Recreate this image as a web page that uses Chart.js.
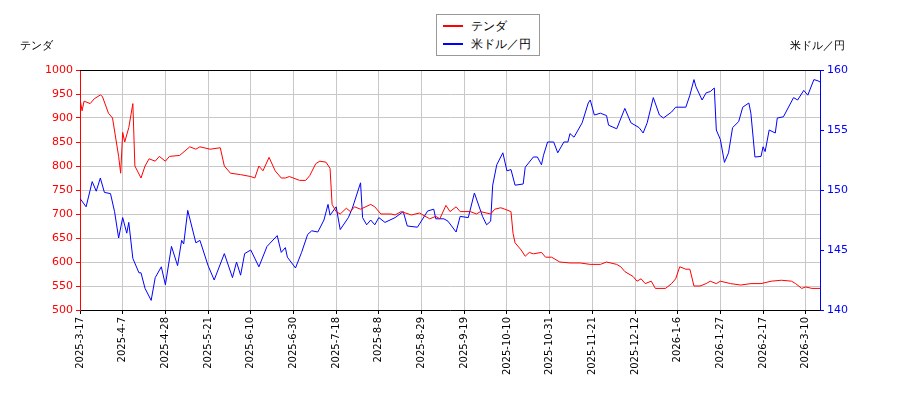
<!DOCTYPE html>
<html>
<head>
<meta charset="utf-8">
<script src="https://cdn.jsdelivr.net/npm/chart.js@4/dist/chart.umd.min.js"></script>
<style>
body{margin:0;background:#fff;font-family:"DejaVu Sans",sans-serif;}
#wrap{position:relative;width:900px;height:400px;}
.lab{position:absolute;font-size:11px;color:#000;}
#legend{position:absolute;left:436px;top:14px;width:104px;height:42px;border:1px solid #999;background:#fff;font-size:12px;box-sizing:border-box;padding:2px 6px;}
#legend div{display:flex;align-items:center;height:18px;}
#legend span{display:inline-block;width:20px;height:0;border-top:2px solid;margin-right:8px;}
</style>
</head>
<body>
<div id="wrap">
<canvas id="c" width="900" height="400"></canvas>
<div class="lab" style="left:20px;top:38px;">テンダ</div>
<div class="lab" style="left:790px;top:38px;">米ドル／円</div>
<div id="legend">
<div><span style="border-color:#f00"></span>テンダ</div>
<div><span style="border-color:#00f"></span>米ドル／円</div>
</div>
</div>
<script>
// x tick labels, one every 21 steps
const tickLabels = ['2025-3-17','2025-4-7','2025-4-28','2025-5-21','2025-6-10','2025-6-30','2025-7-18','2025-8-8','2025-8-29','2025-9-19','2025-10-10','2025-10-31','2025-11-21','2025-12-12','2026-1-6','2026-1-27','2026-2-17','2026-3-10'];

// position offsets along x and values
const tendaDays = [0,1,2,5,7,10,11,14,16,19,20,21,22,24,26,27,30,32,34,37,39,42,44,49,54,57,59,64,69,71,74,79,84,86,88,90,93,96,99,101,103,108,111,113,116,118,121,123,124,126,128,131,133,135,138,143,145,148,153,155,158,163,167,172,175,177,180,182,185,187,192,195,197,202,204,207,209,212,213,214,217,219,221,223,227,229,232,236,241,246,251,256,259,264,266,268,272,274,276,278,281,283,288,291,293,295,298,300,302,305,308,310,313,315,320,325,330,335,340,345,350,352,355,357,360,364];
const tendaVals = [940,915,935,930,940,948,945,910,900,820,785,870,850,880,930,800,775,800,815,810,820,810,820,822,840,835,840,835,838,800,785,782,778,775,800,790,818,790,775,775,778,770,770,780,805,810,808,795,720,705,700,712,705,715,710,720,715,700,700,698,705,698,702,690,695,690,718,705,715,705,705,700,705,700,710,713,710,705,660,640,625,612,620,617,620,610,610,600,598,598,595,595,600,595,590,580,570,560,565,555,560,545,545,555,565,590,585,585,550,550,555,560,555,560,555,552,555,555,560,562,560,555,545,548,545,545];

const usdDays = [0,3,6,8,10,12,15,17,19,21,23,24,26,29,30,32,35,37,40,42,45,48,50,51,53,57,59,63,66,71,75,77,79,81,84,88,92,97,99,101,102,106,109,112,114,117,120,122,123,126,128,132,134,138,139,141,143,145,147,150,155,159,161,166,171,174,175,179,181,185,187,191,194,198,200,202,203,205,208,210,212,214,218,219,223,225,227,228,230,233,235,238,240,241,243,247,250,251,253,256,259,260,264,268,271,275,277,279,282,285,287,291,293,298,300,302,303,306,308,310,312,313,315,317,319,321,324,326,329,330,332,335,336,337,339,342,343,346,351,353,356,358,361,363,364];
const usdVals = [149.3,148.6,150.7,149.9,151.0,149.8,149.7,148.2,146.0,147.7,146.4,147.3,144.3,143.1,143.1,141.8,140.8,142.7,143.6,142.1,145.3,143.7,145.8,145.5,148.3,145.6,145.8,143.7,142.5,144.7,142.7,144.0,142.9,144.7,145.0,143.6,145.3,146.2,144.8,145.2,144.4,143.5,144.8,146.3,146.6,146.5,147.5,148.8,147.9,148.6,146.7,147.7,148.5,150.6,147.7,147.1,147.5,147.1,147.7,147.3,147.7,148.2,147.0,146.9,148.25,148.4,147.6,147.6,147.4,146.5,147.8,147.7,149.75,147.8,147.1,147.4,150.4,152.1,153.1,151.6,151.7,150.4,150.5,151.9,152.75,152.75,152.1,152.9,154.0,154.0,153.1,154.0,154.0,154.7,154.4,155.6,157.25,157.5,156.25,156.4,156.2,155.4,155.1,156.8,155.6,155.2,154.75,155.6,157.7,156.25,156.0,156.5,156.9,156.9,157.9,159.2,158.6,157.5,158.1,158.2,158.5,155.0,154.2,152.3,153.1,155.2,155.7,156.9,157.25,156.4,152.75,152.8,153.6,153.2,155.0,154.75,156.0,156.1,157.7,157.5,158.3,157.9,159.2,159.1,159.0];

const tickFont = {family: 'DejaVu Sans', size: 11};

new Chart(document.getElementById('c'), {
  type: 'line',
  data: {
    datasets: [
      {label: 'テンダ', data: tendaDays.map((d, i) => ({x: d, y: tendaVals[i]})), borderColor: '#f00', borderWidth: 1, pointRadius: 0, tension: 0, yAxisID: 'y'},
      {label: '米ドル／円', data: usdDays.map((d, i) => ({x: d, y: usdVals[i]})), borderColor: '#00f', borderWidth: 1, pointRadius: 0, tension: 0, yAxisID: 'y1'}
    ]
  },
  options: {
    responsive: false,
    animation: false,
    layout: {padding: {top: 70, left: 0, right: 0, bottom: 0}},
    plugins: {legend: {display: false}, tooltip: {enabled: false}},
    scales: {
      x: {
        type: 'linear', min: 0, max: 364,
        afterBuildTicks: s => { s.ticks = tickLabels.map((t, i) => ({value: i * 21})); },
        afterFit: s => { s.height = 90; },
        ticks: {callback: v => tickLabels[Math.round(v / 21)], maxRotation: 90, minRotation: 90, color: '#000', font: {family: 'DejaVu Sans', size: 10}, autoSkip: false},
        grid: {color: '#c8c8c8', tickColor: '#000', tickLength: 4},
        border: {color: '#000'}
      },
      y: {
        position: 'left', min: 500, max: 1000,
        afterFit: s => { s.width = 80; },
        ticks: {stepSize: 50, color: '#f00', font: tickFont, callback: v => String(v)},
        grid: {color: '#c8c8c8', tickColor: '#f00', tickLength: 4},
        border: {color: '#f00'}
      },
      y1: {
        position: 'right', min: 140, max: 160,
        afterFit: s => { s.width = 80; },
        ticks: {stepSize: 5, color: '#00f', font: tickFont},
        grid: {drawOnChartArea: false, tickColor: '#00f', tickLength: 4},
        border: {color: '#00f'}
      }
    }
  },
  plugins: [{
    id: 'frame',
    afterDraw(chart) {
      const a = chart.chartArea, c = chart.ctx;
      c.save(); c.strokeStyle = '#000'; c.lineWidth = 1;
      c.beginPath(); c.moveTo(a.left, a.top + 0.5); c.lineTo(a.right, a.top + 0.5); c.stroke();
      c.restore();
    }
  }]
});
</script>
</body>
</html>
